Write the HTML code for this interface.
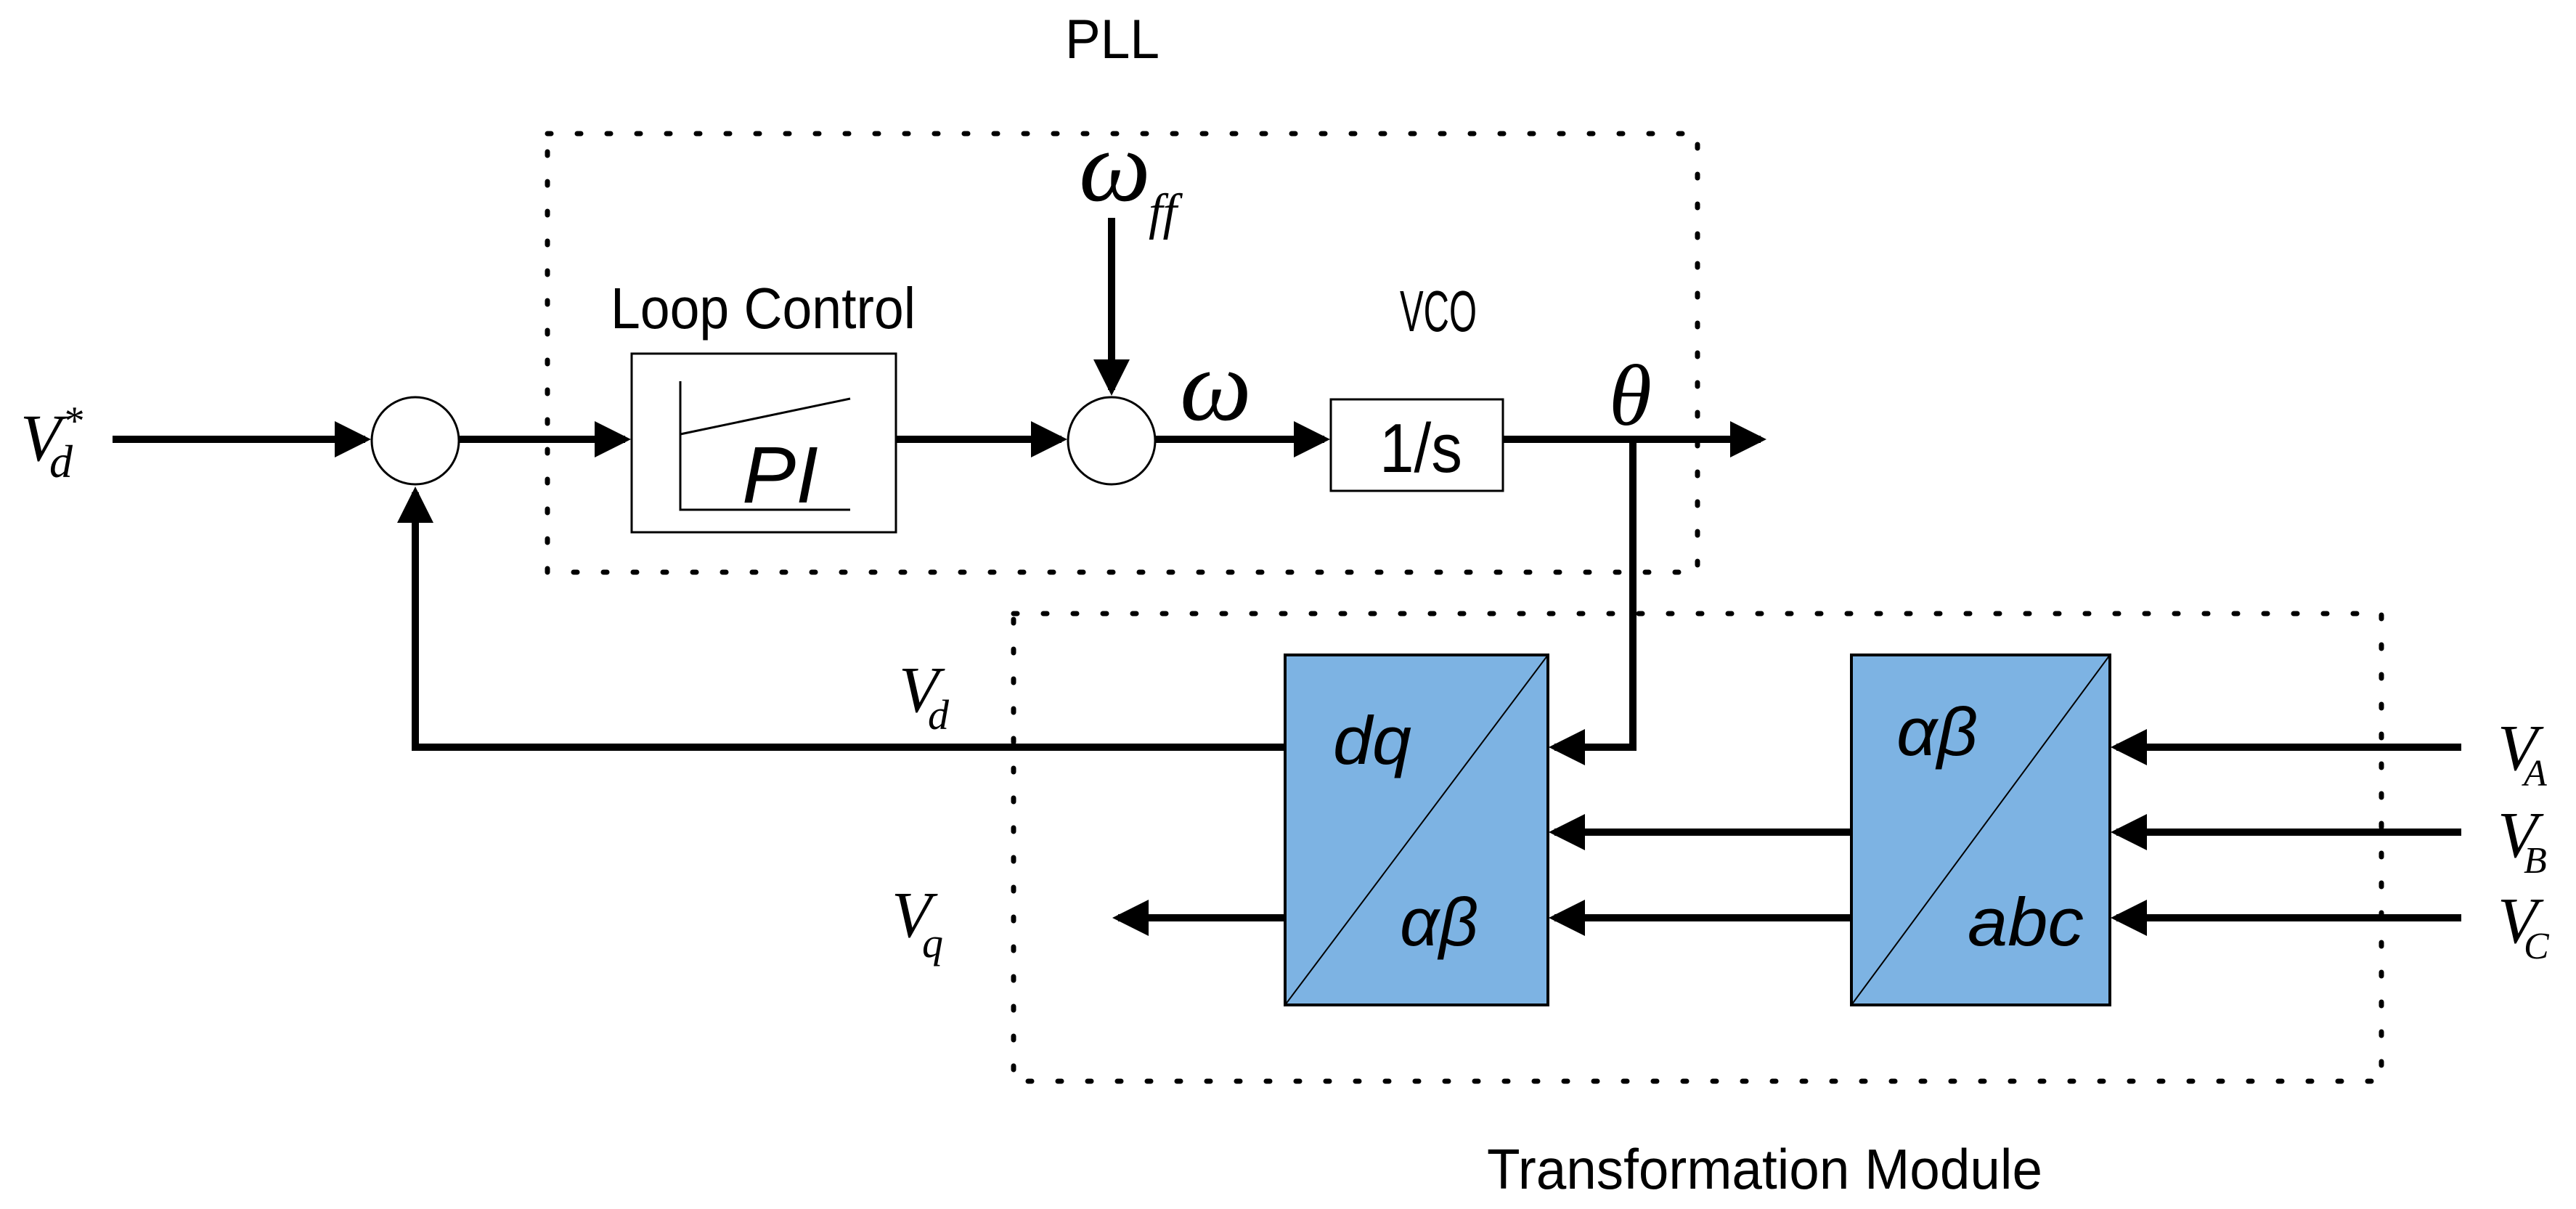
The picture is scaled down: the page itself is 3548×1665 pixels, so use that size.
<!DOCTYPE html>
<html><head><meta charset="utf-8"><style>
html,body{margin:0;padding:0;background:#fff;}
svg{display:block}
.s{font-family:"Liberation Sans",sans-serif;}
.r{font-family:"Liberation Serif",serif;font-style:italic;}
</style></head><body>
<svg width="3548" height="1665" viewBox="0 0 3548 1665" xmlns="http://www.w3.org/2000/svg">
<defs>
<marker id="a" markerUnits="userSpaceOnUse" markerWidth="60" markerHeight="60" refX="42" refY="25" orient="auto">
<path d="M0,0 L50,25 L0,50 Z" fill="#000"/></marker>
</defs>
<g stroke="#000" stroke-width="7" stroke-dasharray="5 36" stroke-linecap="round" fill="none">
<rect x="754" y="184" width="1584" height="604"/>
<rect x="1396" y="845" width="1884" height="644"/>
</g>
<text class="s" x="1467" y="80" font-size="76" textLength="130" lengthAdjust="spacingAndGlyphs">PLL</text>
<text class="s" x="841" y="452" font-size="80" textLength="420" lengthAdjust="spacingAndGlyphs">Loop Control</text>
<text class="s" x="1928" y="456" font-size="80" textLength="106" lengthAdjust="spacingAndGlyphs">VCO</text>
<text class="s" x="2048" y="1637" font-size="78" textLength="765" lengthAdjust="spacingAndGlyphs">Transformation Module</text>

<text class="r" x="28" y="634" font-size="92">V</text>
<text class="r" x="68" y="657" font-size="64">d</text>
<text class="r" x="86" y="598" font-size="56">*</text>

<g stroke="#000" stroke-width="10" fill="none" stroke-linecap="butt">
<line x1="155" y1="605" x2="503" y2="605" marker-end="url(#a)"/>
<line x1="632" y1="605" x2="861" y2="605" marker-end="url(#a)"/>
<line x1="1234" y1="605" x2="1462" y2="605" marker-end="url(#a)"/>
<line x1="1531" y1="300" x2="1531" y2="537" marker-end="url(#a)"/>
<line x1="1592" y1="605" x2="1824" y2="605" marker-end="url(#a)"/>
<line x1="2070" y1="605" x2="2425" y2="605" marker-end="url(#a)"/>
<polyline points="2249,605 2249,1029 2141,1029" marker-end="url(#a)"/>
<polyline points="1770,1029 572,1029 572,678" marker-end="url(#a)"/>
<line x1="1770" y1="1264" x2="1540" y2="1264" marker-end="url(#a)"/>
<line x1="2550" y1="1146" x2="2141" y2="1146" marker-end="url(#a)"/>
<line x1="2550" y1="1264" x2="2141" y2="1264" marker-end="url(#a)"/>
<line x1="3390" y1="1029" x2="2915" y2="1029" marker-end="url(#a)"/>
<line x1="3390" y1="1146" x2="2915" y2="1146" marker-end="url(#a)"/>
<line x1="3390" y1="1264" x2="2915" y2="1264" marker-end="url(#a)"/>
</g>

<circle cx="572" cy="607" r="60" fill="#fff" stroke="#000" stroke-width="3"/>
<circle cx="1531" cy="607" r="60" fill="#fff" stroke="#000" stroke-width="3"/>

<rect x="870" y="487" width="364" height="246" fill="#fff" stroke="#000" stroke-width="3"/>
<polyline points="937,525 937,702 1171,702" fill="none" stroke="#000" stroke-width="3"/>
<line x1="937" y1="598" x2="1171" y2="549" stroke="#000" stroke-width="3"/>
<text class="s" x="1022" y="692" font-size="110" font-style="italic" textLength="105" lengthAdjust="spacingAndGlyphs">PI</text>

<rect x="1833" y="550" width="237" height="126" fill="#fff" stroke="#000" stroke-width="3"/>
<text class="s" x="1900" y="650" font-size="96" textLength="114" lengthAdjust="spacingAndGlyphs">1/s</text>

<text class="r" x="1486" y="276" font-size="140">ω</text>
<text class="r" x="1582" y="315" font-size="70">ff</text>
<text class="r" x="1625" y="578" font-size="140">ω</text>
<text class="r" x="2216" y="585" font-size="120">θ</text>

<rect x="1770" y="902" width="362" height="482" fill="#7db3e3" stroke="#000" stroke-width="4"/>
<line x1="1770" y1="1384" x2="2132" y2="902" stroke="#000" stroke-width="2"/>
<rect x="2550" y="902" width="356" height="482" fill="#7db3e3" stroke="#000" stroke-width="4"/>
<line x1="2550" y1="1384" x2="2906" y2="902" stroke="#000" stroke-width="2"/>
<g class="s" font-style="italic" font-size="94">
<text x="1836" y="1052" textLength="108" lengthAdjust="spacingAndGlyphs">dq</text>
<text x="1928" y="1302" textLength="108" lengthAdjust="spacingAndGlyphs">αβ</text>
<text x="2612" y="1040" textLength="112" lengthAdjust="spacingAndGlyphs">αβ</text>
<text x="2710" y="1302" textLength="160" lengthAdjust="spacingAndGlyphs">abc</text>
</g>

<g class="r">
<text x="1238" y="980" font-size="90">V</text><text x="1278" y="1004" font-size="58">d</text>
<text x="1228" y="1290" font-size="90">V</text><text x="1270" y="1318" font-size="58">q</text>
<text x="3440" y="1060" font-size="90">V</text><text x="3476" y="1082" font-size="52">A</text>
<text x="3440" y="1180" font-size="90">V</text><text x="3476" y="1202" font-size="52">B</text>
<text x="3440" y="1298" font-size="90">V</text><text x="3476" y="1320" font-size="52">C</text>
</g>
</svg>
</body></html>
